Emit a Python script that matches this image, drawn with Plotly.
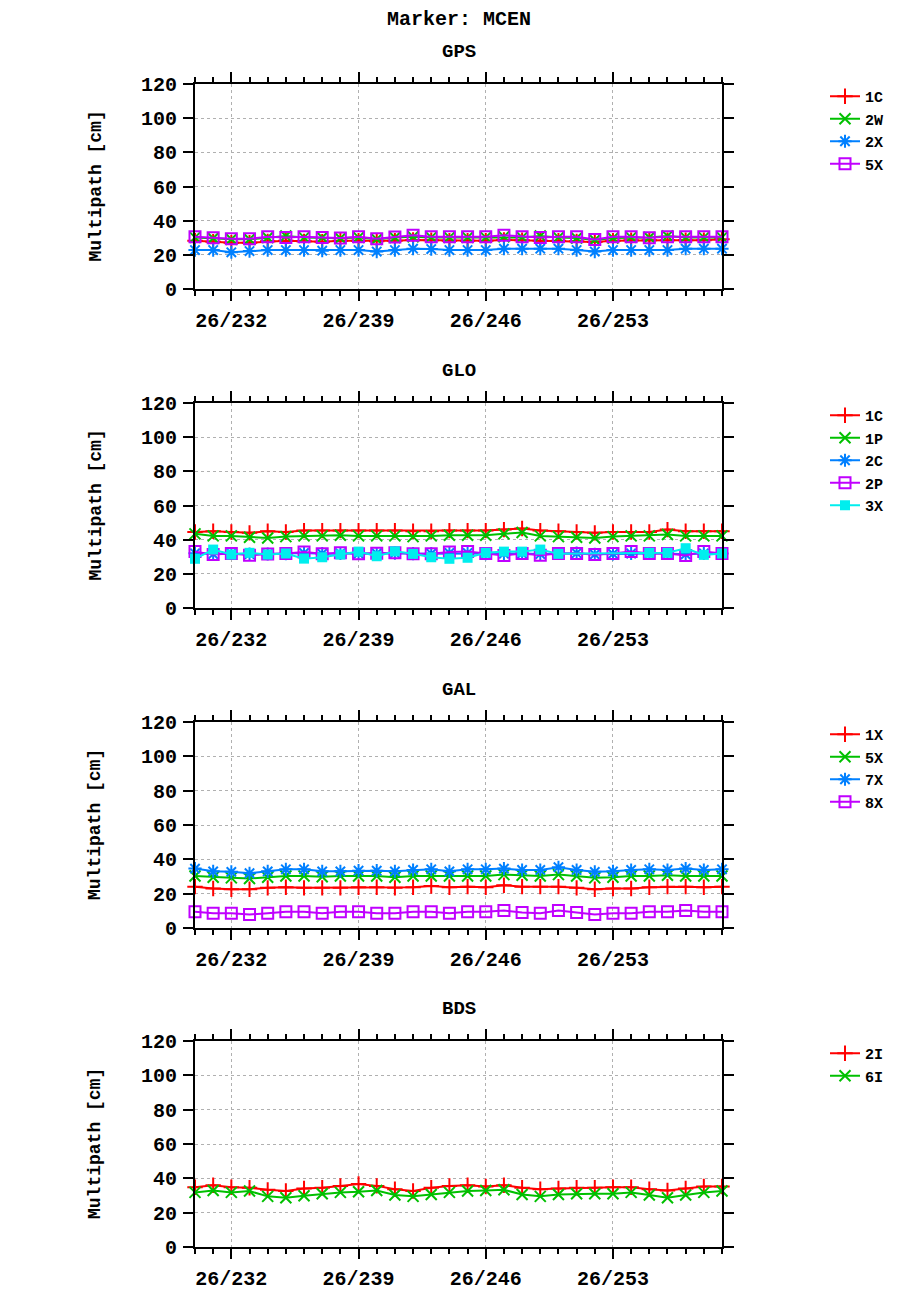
import plotly.graph_objects as go

# day of year 2026
days = list(range(230, 260))
day_ticks = [232, 239, 246, 253]
day_labels = ["26/232", "26/239", "26/246", "26/253"]
y_ticks = [0, 20, 40, 60, 80, 100, 120]

gps_1c = [28.3, 27.7, 27.1, 27.1, 27.9, 28.3, 27.9, 27.7, 28.3, 28.3, 27.9, 28.3, 28.7, 28.5, 28.3,
          28.3, 28.3, 28.7, 28.5, 28.3, 28.3, 27.9, 27.5, 28.3, 28.5, 28.5, 28.5, 28.5, 28.5, 29.1]
gps_2w = [30.2, 29.7, 29.1, 29.1, 30.1, 31.0, 30.2, 30.1, 29.7, 30.2, 29.1, 30.1, 30.6, 30.2, 30.2,
          30.2, 30.2, 30.6, 30.2, 31.0, 30.2, 29.9, 28.7, 29.9, 30.2, 30.1, 31.0, 30.2, 30.2, 30.2]
gps_2x = [22.8, 22.8, 21.5, 22.2, 22.8, 22.8, 22.8, 22.4, 22.8, 22.8, 21.9, 22.8, 23.6, 23.4, 22.8,
          22.8, 22.8, 23.6, 23.6, 23.6, 23.6, 22.8, 21.9, 22.8, 22.8, 22.8, 22.8, 23.6, 23.6, 23.6]
gps_5x = [30.6, 30.0, 29.4, 29.4, 30.6, 30.2, 30.6, 30.2, 29.9, 30.6, 29.4, 30.4, 31.4, 30.6, 30.6,
          30.6, 30.6, 31.4, 30.6, 30.2, 30.6, 30.6, 29.0, 30.6, 30.6, 30.0, 30.6, 30.6, 30.6, 30.6]

glo_1c = [44.5, 44.9, 44.5, 44.0, 44.9, 44.5, 45.3, 45.3, 45.3, 45.3, 45.3, 45.3, 44.9, 44.9, 45.3,
          45.3, 45.3, 45.9, 46.5, 45.3, 44.9, 44.5, 44.0, 44.5, 44.5, 44.5, 45.9, 44.9, 44.9, 44.9]
glo_1p = [43.4, 42.2, 42.2, 41.4, 41.0, 41.8, 42.2, 42.2, 42.6, 42.2, 42.2, 42.2, 41.8, 42.2, 42.6,
          42.6, 42.6, 43.4, 44.2, 42.2, 41.8, 41.4, 41.0, 41.8, 42.2, 42.2, 43.0, 42.2, 42.2, 42.2]
glo_2c = [32.0, 31.6, 31.9, 31.5, 31.6, 31.8, 32.2, 31.8, 31.9, 31.9, 31.9, 32.1, 31.8, 31.8, 32.2,
          32.2, 31.8, 31.8, 31.9, 31.6, 31.9, 32.1, 31.4, 31.7, 31.9, 31.9, 31.9, 31.4, 31.9, 31.9]
glo_2p = [33.0, 31.3, 31.9, 30.9, 31.6, 31.9, 32.8, 31.7, 32.3, 31.7, 32.1, 32.3, 31.7, 31.7, 32.8,
          33.0, 31.9, 30.7, 31.9, 30.9, 31.9, 31.9, 31.3, 31.9, 33.0, 31.9, 31.9, 30.7, 33.0, 31.9]
# 3X has no values for days 251-254
glo_3x_days = days[:21] + days[25:]
glo_3x = [28.8, 34.2, 31.3, 32.3, 31.3, 31.9, 28.9, 29.7, 31.3, 33.0, 30.3, 33.2, 31.7, 29.7, 28.8,
          29.4, 32.3, 33.0, 33.0, 34.2, 31.7, 32.3, 32.3, 35.0, 31.1, 31.9]

gal_1x = [24.1, 23.0, 22.6, 22.6, 23.4, 23.7, 23.4, 23.4, 23.4, 23.7, 23.7, 23.4, 23.7, 24.5, 23.7,
          24.1, 23.7, 24.9, 24.1, 24.1, 24.1, 23.4, 22.6, 23.0, 23.0, 23.7, 24.1, 24.1, 23.7, 24.1]
gal_5x = [30.3, 29.6, 29.2, 28.8, 29.6, 30.3, 30.3, 29.9, 30.3, 30.3, 30.3, 29.6, 30.3, 30.3, 30.3,
          30.3, 30.3, 31.1, 30.7, 30.3, 31.1, 30.3, 29.2, 29.6, 30.3, 30.3, 30.7, 30.3, 30.3, 30.3]
gal_7x = [34.6, 33.0, 32.7, 31.9, 33.0, 34.2, 34.2, 33.0, 33.0, 33.4, 33.4, 33.0, 33.8, 34.2, 33.0,
          34.2, 34.2, 34.6, 33.8, 33.8, 35.4, 33.8, 32.7, 33.0, 33.8, 34.2, 33.8, 34.6, 33.8, 34.2]
gal_8x = [9.4, 8.6, 8.6, 7.8, 8.6, 9.4, 9.4, 8.6, 9.4, 9.4, 8.6, 8.6, 9.4, 9.4, 8.6,
          9.4, 9.4, 10.2, 9.0, 8.6, 10.2, 9.0, 7.8, 8.6, 8.6, 9.4, 9.4, 10.2, 9.4, 9.4]

bds_2i = [34.8, 36.0, 34.8, 34.5, 33.3, 32.6, 34.1, 34.5, 35.6, 36.7, 35.6, 33.7, 32.6, 34.5, 35.6,
          36.0, 35.2, 36.0, 34.5, 33.7, 34.1, 34.5, 34.5, 34.8, 34.8, 33.7, 32.9, 34.1, 35.2, 35.2]
bds_6i = [31.8, 32.9, 31.8, 32.6, 29.5, 28.7, 29.9, 31.0, 31.8, 32.2, 32.9, 30.3, 29.5, 30.6, 31.8,
          32.6, 32.9, 33.3, 30.6, 29.5, 30.6, 31.0, 31.0, 31.0, 31.8, 30.3, 28.7, 30.3, 31.8, 32.6]

RED, GREEN, BLUE, PURPLE, CYAN = "#ff0000", "#00c000", "#0080ff", "#c000ff", "#00eeee"
FONT = "Liberation Mono"

panels = [
    ("GPS", [("1C", days, gps_1c, RED, "cross-thin"),
             ("2W", days, gps_2w, GREEN, "x-thin"),
             ("2X", days, gps_2x, BLUE, "asterisk"),
             ("5X", days, gps_5x, PURPLE, "square-open")]),
    ("GLO", [("1C", days, glo_1c, RED, "cross-thin"),
             ("1P", days, glo_1p, GREEN, "x-thin"),
             ("2C", days, glo_2c, BLUE, "asterisk"),
             ("2P", days, glo_2p, PURPLE, "square-open"),
             ("3X", glo_3x_days, glo_3x, CYAN, "square")]),
    ("GAL", [("1X", days, gal_1x, RED, "cross-thin"),
             ("5X", days, gal_5x, GREEN, "x-thin"),
             ("7X", days, gal_7x, BLUE, "asterisk"),
             ("8X", days, gal_8x, PURPLE, "square-open")]),
    ("BDS", [("2I", days, bds_2i, RED, "cross-thin"),
             ("6I", days, bds_6i, GREEN, "x-thin")]),
]

# plot areas in pixels (top, bottom) for a 920x1300 page
W, H = 920, 1300
x_left, x_right = 195, 722
rows_px = [(84, 289), (403, 608), (722, 928), (1041, 1247)]

fig = go.Figure()
layout = dict(
    width=W, height=H, autosize=False,
    margin=dict(l=0, r=0, t=0, b=0),
    paper_bgcolor="white", plot_bgcolor="white",
    font=dict(family=FONT, size=18, color="black", weight="bold"),
    showlegend=True,
)
annotations = [dict(text="Marker: MCEN", x=(x_left + x_right) / 2 / W, y=1 - 20 / H,
                    xanchor="center", yanchor="middle",
                    xref="paper", yref="paper", showarrow=False,
                    font=dict(family=FONT, size=20, weight="bold"))]

for i, (title, series) in enumerate(panels):
    n = "" if i == 0 else str(i + 1)
    top, bot = rows_px[i]
    leg = "legend" + n
    for name, xs, ys, color, sym in series:
        fig.add_trace(go.Scatter(
            x=xs, y=ys, name=name, mode="lines+markers",
            line=dict(color=color, width=2),
            marker=dict(symbol=sym, size=11 if sym != "square" else 10, color=color,
                        line=dict(color=color, width=2 if sym != "square" else 0)),
            cliponaxis=False, xaxis="x" + n, yaxis="y" + n, legend=leg))

    layout["xaxis" + n] = dict(
        domain=[x_left / W, x_right / W], anchor="y" + n, range=[230, 259],
        tickvals=day_ticks, ticktext=day_labels, ticks="outside", ticklen=10, tickwidth=2,
        tickcolor="black", ticklabelstandoff=2,
        minor=dict(dtick=1, tick0=230, ticks="outside", ticklen=5, tickwidth=2,
                   tickcolor="black", showgrid=False),
        showline=True, linewidth=2, linecolor="black", mirror="ticks",
        showgrid=True, gridcolor="#b0b0b0", griddash="dot", gridwidth=1,
        zeroline=False, automargin=False,
        tickfont=dict(family=FONT, size=20, weight="bold"))
    layout["yaxis" + n] = dict(
        domain=[1 - bot / H, 1 - top / H], anchor="x" + n, range=[0, 120],
        tickvals=y_ticks, ticks="outside", ticklen=10, tickwidth=2, tickcolor="black",
        ticklabelstandoff=2,
        showline=True, linewidth=2, linecolor="black", mirror="ticks",
        showgrid=True, gridcolor="#b0b0b0", griddash="dot", gridwidth=1,
        zeroline=False, automargin=False,
        tickfont=dict(family=FONT, size=20, weight="bold"))
    layout[leg] = dict(
        x=825 / W, xanchor="left", y=1 - (top - 4) / H, yanchor="top",
        bgcolor="rgba(0,0,0,0)", font=dict(family=FONT, size=15, weight="bold"),
        tracegroupgap=0, itemwidth=30)
    annotations.append(dict(text=title, x=(x_left + x_right) / 2 / W, y=1 - (top - 32) / H,
                            xanchor="center", yanchor="middle",
                            xref="paper", yref="paper", showarrow=False,
                            font=dict(family=FONT, size=19, weight="bold")))
    annotations.append(dict(text="Multipath [cm]", textangle=-90, x=95 / W,
                            y=1 - (top + bot) / 2 / H, xanchor="center", yanchor="middle",
                            xref="paper", yref="paper",
                            showarrow=False, font=dict(family=FONT, size=18, weight="bold")))

layout["annotations"] = annotations
fig.update_layout(**layout)
fig.write_html("out.html", config={"displayModeBar": False},
               post_script="document.body.style.margin = '0px';")
